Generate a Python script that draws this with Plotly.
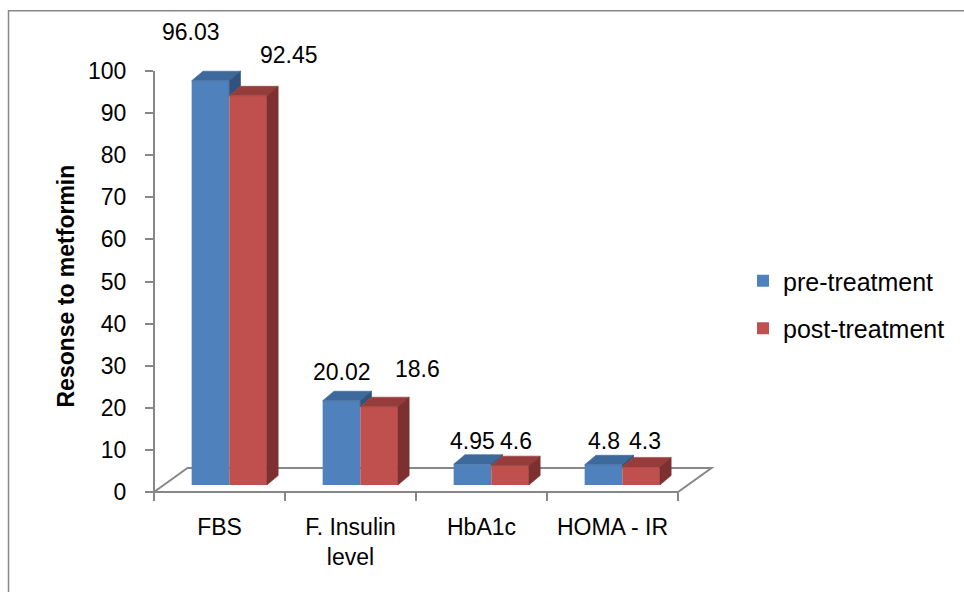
import plotly.graph_objects as go

# ---------------- data ----------------
categories = ["FBS", "F. Insulin<br>level", "HbA1c", "HOMA - IR"]
pre_treatment = [96.03, 20.02, 4.95, 4.8]
post_treatment = [92.45, 18.6, 4.6, 4.3]
series_names = ["pre-treatment", "post-treatment"]
y_tick_values = list(range(0, 101, 10))
y_title = "Resonse to metformin"

# ---------------- geometry (pixels) ----------------
W, H = 964, 592
PL, PR, PT, PB = 154, 730, 20, 492      # plot area
SLOT = 131.0                            # px per category slot
YPX = 4.21                              # px per value unit
LIFT = 7.0                              # bar fronts sit this far above the floor front edge
FLOOR_DX, FLOOR_DY = 33.5, 24.0         # floor depth
BAR_DX, BAR_DY = 11.3, 9.5              # bar depth
BAR_W = 37.6 / SLOT
BAR_OFFSETS = [-0.2125, -0.2125 + BAR_W]

FONT = "Liberation Sans"
GREY = "#878787"
FRONT = ["#4F81BD", "#C0504D"]
TOP = ["#3E699C", "#963C3A"]
SIDE = ["#30527C", "#7D302F"]

# label placement: offset from category centre (slot units) and lift above bar top (px)
label_dx = [[-0.2176, -0.067, -0.0725, -0.065], [0.5305, 0.515, 0.263, 0.248]]
label_lift = [[48.7, 28.7, 23.0, 23.8], [40.8, 37.7, 24.6, 26.0]]

n = len(categories)
x_range = [-0.5, -0.5 + (PR - PL) / SLOT]
y_range = [0, (PB - PT) / YPX]
y2_range = [-LIFT / YPX, (PB - PT - LIFT) / YPX]
dx = BAR_DX / SLOT
dy = BAR_DY / YPX


def px(xp):
    return (xp - PL) / (PR - PL)


def py(yp):
    return (PB - yp) / (PB - PT)


series = [pre_treatment, post_treatment]
fig = go.Figure()

# empty trace so the value axis subplot is created and drawn
fig.add_trace(go.Scatter(x=[None], y=[None], mode="lines", showlegend=False,
                         hoverinfo="skip", xaxis="x", yaxis="y"))

# front faces
for s, vals in enumerate(series):
    fig.add_trace(go.Bar(
        x=list(range(n)), y=vals, width=BAR_W, offset=BAR_OFFSETS[s],
        marker=dict(color=FRONT[s], line=dict(width=0)),
        name=series_names[s], legendgroup=series_names[s],
        xaxis="x", yaxis="y2", hoverinfo="skip",
    ))


def add_faces(xs, ys, color):
    fig.add_trace(go.Scatter(
        x=xs, y=ys, mode="lines", fill="toself", fillcolor=color,
        line=dict(width=0.6, color=color), xaxis="x", yaxis="y2",
        showlegend=False, hoverinfo="skip",
    ))


# top and side faces
for s, vals in enumerate(series):
    tx, ty, sx, sy = [], [], [], []
    for i, v in enumerate(vals):
        x0 = i + BAR_OFFSETS[s]
        x1 = x0 + BAR_W
        tx += [x0, x1, x1 + dx, x0 + dx, x0, None]
        ty += [v, v, v + dy, v + dy, v, None]
        if s == 0:
            # only the part of the side showing above the neighbouring bar
            vr = post_treatment[i]
            if v > vr:
                sx += [x1, x1, x1 + dx, x1 + dx, x1, None]
                sy += [vr, v, v + dy, vr + dy, vr, None]
        else:
            sx += [x1, x1, x1 + dx, x1 + dx, x1, None]
            sy += [0, v, v + dy, dy, 0, None]
    add_faces(tx, ty, TOP[s])
    if sx:
        add_faces(sx, sy, SIDE[s])

annotations = []
for s, vals in enumerate(series):
    for i, v in enumerate(vals):
        annotations.append(dict(
            x=i + label_dx[s][i], y=v, xref="x", yref="y2",
            text=f"{v:g}", showarrow=False, yanchor="middle", xanchor="center",
            yshift=label_lift[s][i], font=dict(family=FONT, size=23, color="#000000"),
        ))

annotations.append(dict(
    x=px(65), y=py(286.5), xref="paper", yref="paper", text=f"<b>{y_title}</b>",
    textangle=-90, showarrow=False, xanchor="center", yanchor="middle",
    font=dict(family=FONT, size=23, color="#000000"),
))

front_l, front_r = PL, PL + n * SLOT
floor_path = (
    f"M {px(front_l)},{py(PB)} L {px(front_l + FLOOR_DX)},{py(PB - FLOOR_DY)} "
    f"L {px(front_r + FLOOR_DX)},{py(PB - FLOOR_DY)} L {px(front_r)},{py(PB)} Z"
)

shapes = [
    dict(type="rect", xref="paper", yref="paper", x0=px(8.5), y0=py(H + 10),
         x1=px(W + 10), y1=py(10.7), line=dict(color=GREY, width=1.5), layer="below"),
    dict(type="path", xref="paper", yref="paper", path=floor_path,
         line=dict(color=GREY, width=2), layer="below"),
    dict(type="line", xref="paper", yref="paper", x0=0, x1=0,
         y0=0, y1=py(PB - 100 * YPX), line=dict(color=GREY, width=2), layer="below"),
]

fig.update_layout(
    width=W, height=H,
    margin=dict(l=PL, r=W - PR, t=PT, b=H - PB, pad=0),
    paper_bgcolor="white", plot_bgcolor="rgba(0,0,0,0)",
    font=dict(family=FONT, size=23, color="#000000"),
    barmode="overlay",
    xaxis=dict(
        range=x_range, tickmode="array", tickvals=list(range(n)), ticktext=categories,
        ticks="", showline=False, showgrid=False, zeroline=False,
        tickfont=dict(family=FONT, size=23, color="#000000"), ticklabelstandoff=19,
        minor=dict(tickmode="array", tickvals=[i - 0.5 for i in range(n + 1)],
                   ticks="outside", ticklen=8, tickwidth=2, tickcolor=GREY),
    ),
    yaxis=dict(
        range=y_range, tickmode="array", tickvals=y_tick_values,
        ticks="outside", ticklen=8, tickwidth=2, tickcolor=GREY,
        showline=False, showgrid=False, zeroline=False,
        tickfont=dict(family=FONT, size=23, color="#000000"), ticklabelstandoff=14,
    ),
    yaxis2=dict(range=y2_range, overlaying="y", visible=False),
    legend=dict(
        x=px(743), y=py(258), xanchor="left", yanchor="top",
        font=dict(family=FONT, size=25, color="#000000"),
        tracegroupgap=12, itemwidth=30, bgcolor="rgba(0,0,0,0)",
    ),
    annotations=annotations,
    shapes=shapes,
)

fig.write_html("out.html")
